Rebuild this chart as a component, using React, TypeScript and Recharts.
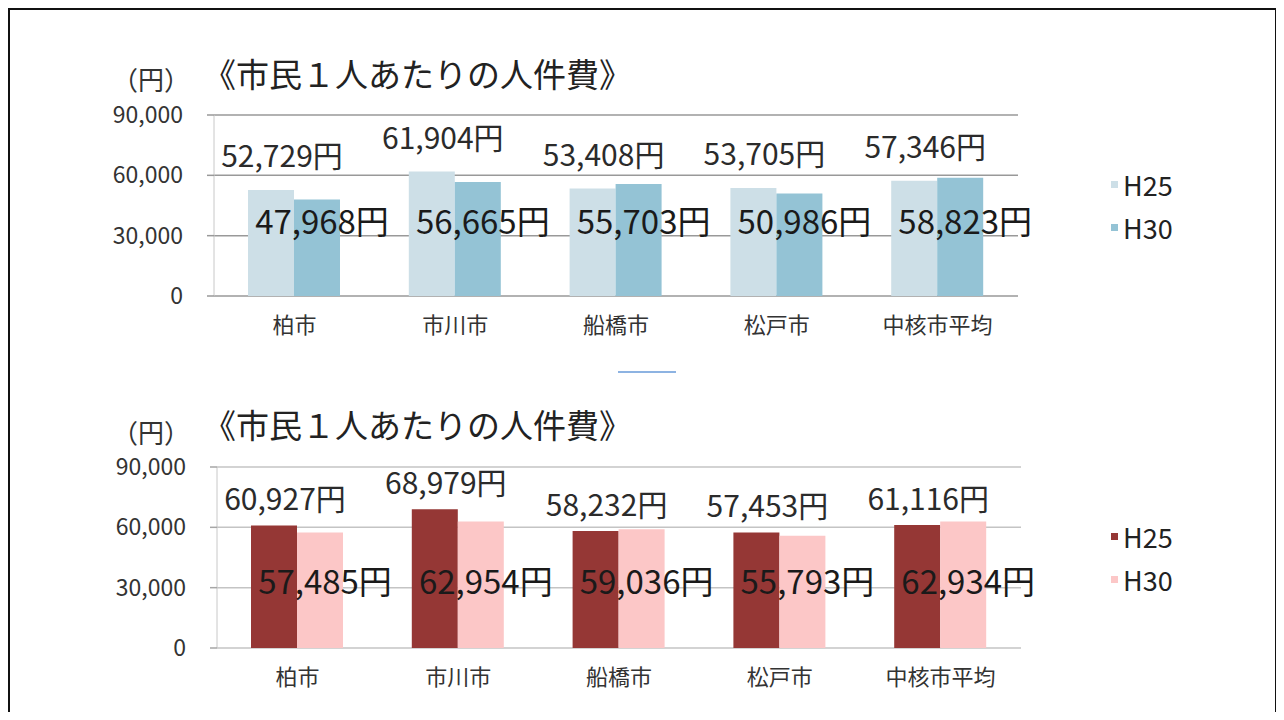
import { Bar, BarChart, CartesianGrid, LabelList, Legend, XAxis, YAxis } from "recharts";

const cities = ["柏市", "市川市", "船橋市", "松戸市", "中核市平均"];
const topH25 = [52729, 61904, 53408, 53705, 57346];
const topH30 = [47968, 56665, 55703, 50986, 58823];
const bottomH25 = [60927, 68979, 58232, 57453, 61116];
const bottomH30 = [57485, 62954, 59036, 55793, 62934];
const yTicks = [0, 30000, 60000, 90000];
const edgeTicks = [0, 1, 2, 3, 4, 5];

const FONT = '"Noto Sans CJK JP", "Noto Sans", sans-serif';
const yen = (v: number) => `${v.toLocaleString("en-US")}円`;

type Palette = { h25: string; h30: string; grid: string; axis: string };

const topPalette: Palette = { h25: "#cddfe7", h30: "#94c3d5", grid: "#999999", axis: "#999999" };
const bottomPalette: Palette = { h25: "#953735", h30: "#fcc7c7", grid: "#c4c4c4", axis: "#a6a6a6" };

function upperLabel(rise: number) {
  return (props: any) => {
    const { x, y, width, value } = props;
    return (
      <text x={x + width / 2 + 11} y={y - rise} textAnchor="middle" dominantBaseline="central"
        fontSize={30} fill="#2b2b2b" fontFamily={FONT}>
        {yen(value)}
      </text>
    );
  };
}

function lowerLabel(lift: number) {
  return (props: any) => {
    const { x, y, width, height, value } = props;
    return (
      <text x={x + width / 2 + 5} y={y + height - lift} textAnchor="middle" dominantBaseline="central"
        fontSize={33} fill="#1a1a1a" fontFamily={FONT}>
        {yen(value)}
      </text>
    );
  };
}

function LegendBox({ payload }: any) {
  return (
    <div style={{ fontFamily: FONT }}>
      {(payload || []).map((p: any) => (
        <div key={p.value} style={{ display: "flex", alignItems: "center", height: 43, fontSize: 27, color: "#222" }}>
          <span style={{ width: 7, height: 7, background: p.color, marginRight: 5 }} />
          {p.value}
        </div>
      ))}
    </div>
  );
}

function CostChart({ h25, h30, pal, left, top, rise, lift, legendTop }: {
  h25: number[]; h30: number[]; pal: Palette; left: number; top: number; rise: number; lift: number; legendTop: number;
}) {
  const rows = cities.map((c, i) => ({ city: c, H25: h25[i], H30: h30[i] }));
  const plotH = 181;
  return (
    <BarChart width={1284} height={360} data={rows} barSize={46} barGap={0}
      margin={{ top, left: left - 100, right: 1284 - left - 804, bottom: 360 - top - plotH - 44 }}
      style={{ fontFamily: FONT }}>
      <CartesianGrid vertical={false} stroke={pal.grid} strokeWidth={1.5} xAxisId="cat" />
      <XAxis xAxisId="edge" type="number" domain={[0, 5]} ticks={edgeTicks} allowDataOverflow tick={false}
        tickSize={8} height={0} axisLine={{ stroke: pal.axis, strokeWidth: 1.5 }} tickLine={{ stroke: pal.axis, strokeWidth: 1.5 }} />
      <XAxis xAxisId="cat" dataKey="city" axisLine={false} tickLine={false} tickSize={0} tickMargin={21} height={44}
        tick={{ fontSize: 22, fill: "#333" }} interval={0} />
      <YAxis width={100} domain={[0, 90000]} ticks={yTicks} tickFormatter={(v: number) => v.toLocaleString("en-US")}
        tickSize={7} tickMargin={24} axisLine={{ stroke: "#c8c8c8" }} tickLine={{ stroke: pal.axis, strokeWidth: 1.5 }}
        tick={{ fontSize: 23, fill: "#333" }} />
      <Legend layout="vertical" align="center" verticalAlign="middle" content={<LegendBox />}
        wrapperStyle={{ left: 1111, top: legendTop, width: 100 }} />
      <Bar dataKey="H25" xAxisId="cat" fill={pal.h25} isAnimationActive={false}>
        <LabelList dataKey="H25" content={upperLabel(rise)} />
      </Bar>
      <Bar dataKey="H30" xAxisId="cat" fill={pal.h30} isAnimationActive={false}>
        <LabelList dataKey="H30" content={lowerLabel(lift)} />
      </Bar>
    </BarChart>
  );
}

const titleStyle: React.CSSProperties = {
  position: "absolute", left: 203, fontSize: 33, color: "#222", fontFamily: FONT, lineHeight: "40px", whiteSpace: "nowrap",
};
const unitStyle: React.CSSProperties = {
  position: "absolute", left: 112, fontSize: 26, color: "#333", fontFamily: FONT, lineHeight: "24px",
};

export default function App() {
  return (
    <div style={{ position: "relative", width: 1284, height: 720, margin: -8, background: "#fff", overflow: "hidden" }}>
      <div style={{ position: "absolute", left: 0, top: 0 }}>
        <CostChart h25={topH25} h30={topH30} pal={topPalette} left={214} top={115} rise={36} lift={76} legendTop={163} />
      </div>
      <div style={{ position: "absolute", left: 0, top: 360 }}>
        <CostChart h25={bottomH25} h30={bottomH30} pal={bottomPalette} left={217} top={107} rise={28} lift={68} legendTop={155} />
      </div>
      <div style={{ ...titleStyle, top: 53 }}>《市民１人あたりの人件費》</div>
      <div style={{ ...unitStyle, top: 67 }}>（円）</div>
      <div style={{ ...titleStyle, top: 404 }}>《市民１人あたりの人件費》</div>
      <div style={{ ...unitStyle, top: 420 }}>（円）</div>
      <div style={{ position: "absolute", left: 618, top: 371, width: 58, height: 2, background: "#8db3e2" }} />
      <svg width={1284} height={720} style={{ position: "absolute", left: 0, top: 0, pointerEvents: "none" }}>
        <path d="M8.5 720 V8.5 H1276.5 V720" fill="none" stroke="#111" strokeWidth={3} />
      </svg>
    </div>
  );
}
